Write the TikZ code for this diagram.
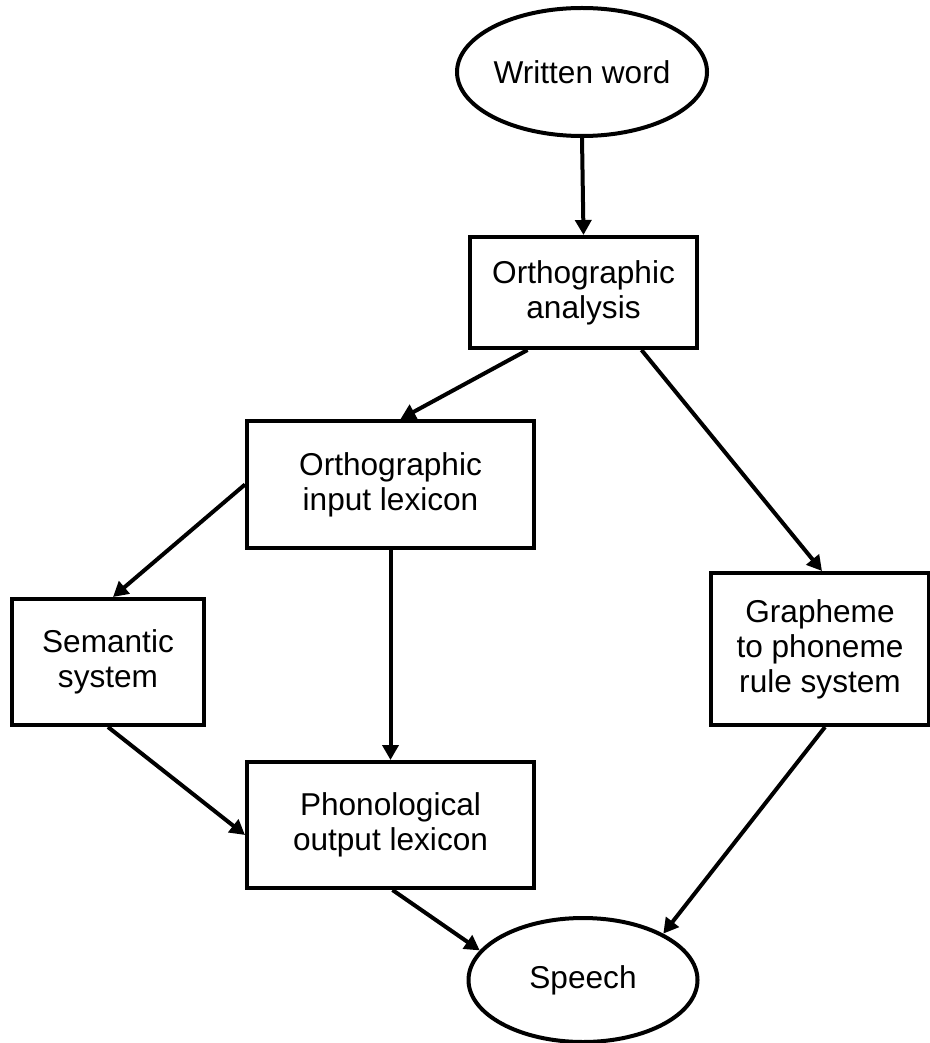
\documentclass[tikz,border=0pt]{standalone}
\usepackage{fontspec}
\setmainfont{Liberation Sans}
\usepackage{tikz}
\usetikzlibrary{arrows.meta,shapes.geometric,positioning,calc}

\begin{document}
\begin{tikzpicture}[
			x=0.5pt, y=-0.5pt,
			every node/.style={draw, line width=2pt, align=center, inner sep=0pt,
					font=\fontsize{15.8}{17.5}\selectfont},
			procbox/.style={rectangle},
			terminal/.style={ellipse},
			flow/.style={-{Triangle[length=7.5pt, width=8pt]}, line width=2pt}
		]
		\useasboundingbox (0,0) rectangle (930,1043);

		\node[terminal, minimum width=116pt, minimum height=64pt] (written) at (582,72) {Written word};
		\node[procbox, minimum width=113.5pt, minimum height=55.5pt] (analysis) at (583.5,292.5) {Orthographic\\analysis};
		\node[procbox, minimum width=143.5pt, minimum height=63.5pt] (oil) at (390.5,484.5) {Orthographic\\input lexicon};
		\node[procbox, minimum width=96pt, minimum height=63pt] (semantic) at (108,662) {Semantic\\system};
		\node[procbox, minimum width=109pt, minimum height=76pt] (grapheme) at (820,649) {Grapheme\\to phoneme\\rule system};
		\node[procbox, minimum width=143.5pt, minimum height=63pt] (pol) at (390.5,825) {Phonological\\output lexicon};
		\node[terminal, minimum width=114.5pt, minimum height=62pt] (speech) at (583,980) {Speech};

		% routes
		\draw[flow] (written.south) -- (analysis.north);
		\draw[flow] ([xshift=-28pt]analysis.south) -- ([xshift=5pt]oil.north);
		\draw[flow] ([xshift=29pt]analysis.south) -- ([xshift=1pt]grapheme.north);
		\draw[flow] (oil.west) -- ([xshift=2.5pt]semantic.north);
		\draw[flow] (oil.south) -- (pol.north);
		\draw[flow] (semantic.south) -- ([yshift=-5pt]pol.west);
		\draw[flow] ([xshift=1pt]pol.south) -- (speech.164);
		\draw[flow] ([xshift=2.5pt]grapheme.south) -- (speech.30);
	\end{tikzpicture}
\end{document}
